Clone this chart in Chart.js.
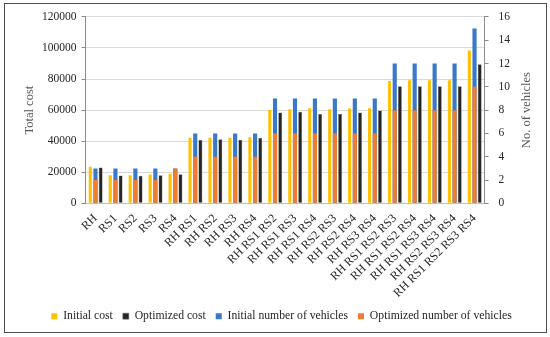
<!DOCTYPE html>
<html>
<head>
<meta charset="utf-8">
<script src="https://cdn.jsdelivr.net/npm/chart.js@4.4.1/dist/chart.umd.min.js"></script>
<style>
  html, body { margin: 0; padding: 0; background: #fff; }
  #wrap { position: relative; width: 550px; height: 337px; }
  #frame {
    position: absolute; left: 4px; top: 3px; width: 543px; height: 330px;
    border: 1.5px solid #4d4d4d; box-sizing: border-box; pointer-events: none;
  }
</style>
</head>
<body>
<div id="wrap">
  <canvas id="myChart" width="550" height="337"></canvas>
  <div id="frame"></div>
</div>
<script>
const categories = [
  "RH", "RS1", "RS2", "RS3", "RS4",
  "RH RS1", "RH RS2", "RH RS3", "RH RS4",
  "RH RS1 RS2", "RH RS1 RS3", "RH RS1 RS4", "RH RS2 RS3", "RH RS2 RS4", "RH RS3 RS4",
  "RH RS1 RS2 RS3", "RH RS1 RS2 RS4", "RH RS1 RS3 RS4", "RH RS2 RS3 RS4",
  "RH RS1 RS2 RS3 RS4"
];
const initialCost = [
  23600, 18100, 18100, 18600, 19000,
  42200, 42200, 42200, 42600,
  60100, 60500, 61200, 60500, 61000, 61200,
  78700, 79300, 79300, 79300,
  98400
];
const optimizedCost = [
  23100, 17900, 17700, 18100, 18800,
  40700, 41300, 40900, 42000,
  58400, 59000, 57500, 57500, 58400, 59700,
  75400, 75400, 75400, 75400,
  89600
];
const initialVehicles = [3, 3, 3, 3, 3, 6, 6, 6, 6, 9, 9, 9, 9, 9, 9, 12, 12, 12, 12, 15];
const optimizedVehicles = [2, 2, 2, 2, 3, 4, 4, 4, 4, 6, 6, 6, 6, 6, 6, 8, 8, 8, 8, 10];

const costTicks = [0, 20000, 40000, 60000, 80000, 100000, 120000];
const vehicleTicks = [0, 2, 4, 6, 8, 10, 12, 14, 16];

const serif = "'Liberation Serif', 'Times New Roman', serif";
Chart.defaults.font.family = serif;
Chart.defaults.color = "#404040";

// right axis title reads bottom-to-top like the left one
const rightTitle = {
  id: "rightTitle",
  afterDraw(chart) {
    const s = chart.scales.y2;
    const c = chart.ctx;
    c.save();
    c.translate(s.right - 14, (s.top + s.bottom) / 2);
    c.rotate(-Math.PI / 2);
    c.textAlign = "center";
    c.textBaseline = "middle";
    c.fillStyle = "#595959";
    c.font = "12.5px " + serif;
    c.fillText("No. of vehicles", 0, 0);
    c.restore();
  },
};

// one group per category: yellow | blue+orange (same slot, stack "v") | black
const ctx = document.getElementById("myChart");
const mychart = new Chart(ctx, {
  type: "bar",
  data: {
    labels: categories,
    datasets: [
      {
        label: "Initial cost",
        data: initialCost,
        backgroundColor: "#FFC000",
        yAxisID: "y",
        barPercentage: 0.6,
        order: 1,
      },
      {
        label: "Optimized cost",
        data: optimizedCost,
        backgroundColor: "#262626",
        borderColor: "#6b6b6b",
        borderWidth: 0.5,
        yAxisID: "y",
        barPercentage: 0.75,
        order: 4,
      },
      {
        label: "Initial number of vehicles",
        data: initialVehicles,
        backgroundColor: "#3b78c8",
        yAxisID: "y2",
        stack: "v",
        barPercentage: 0.8,
        order: 3,
      },
      {
        label: "Optimized number of vehicles",
        data: optimizedVehicles,
        backgroundColor: "#ED7D31",
        yAxisID: "y2",
        stack: "v",
        barPercentage: 0.8,
        order: 2,
      },
    ],
  },
  options: {
    responsive: false,
    animation: false,
    datasets: { bar: { categoryPercentage: 0.78 } },
    layout: { padding: { left: 22, right: 9, top: 15, bottom: 5 } },
    scales: {
      x: {
        type: "category",
        grid: { display: false },
        border: { color: "#bfbfbf" },
        ticks: {
          color: "#262626",
          font: { size: 12 },
          minRotation: 45,
          maxRotation: 45,
          autoSkip: false,
          padding: 0,
        },
      },
      y: {
        position: "left",
        min: 0,
        max: 120000,
        afterBuildTicks: (axis) => { axis.ticks = costTicks.map((v) => ({ value: v })); },
        grid: { color: "#d9d9d9", tickLength: 4, tickColor: "#8c8c8c" },
        border: { color: "#8c8c8c" },
        ticks: { color: "#262626", font: { size: 11.5 }, padding: 5, callback: (v) => String(v) },
        title: {
          display: true,
          text: "Total cost",
          color: "#595959",
          font: { size: 12.5 },
          padding: { top: 0, bottom: 0 },
        },
      },
      y2: {
        position: "right",
        min: 0,
        max: 16,
        stacked: false,
        afterBuildTicks: (axis) => { axis.ticks = vehicleTicks.map((v) => ({ value: v })); },
        grid: { drawOnChartArea: false, tickLength: 4, color: "#8c8c8c" },
        border: { color: "#8c8c8c" },
        ticks: { color: "#262626", font: { size: 11.5 }, padding: 10, callback: (v) => String(v) },
        title: {
          display: true,
          text: "No. of vehicles",
          color: "rgba(0,0,0,0)",
          font: { size: 12.5 },
          padding: { top: 6, bottom: 0 },
        },
      },
    },
    plugins: {
      tooltip: { enabled: false },
      legend: {
        position: "bottom",
        labels: {
          color: "#262626",
          font: { size: 11.7 },
          boxWidth: 6,
          boxHeight: 6,
          padding: 10,
          sort: (a, b) => a.datasetIndex - b.datasetIndex,
        },
      },
    },
  },
  plugins: [rightTitle],
});
</script>
</body>
</html>
